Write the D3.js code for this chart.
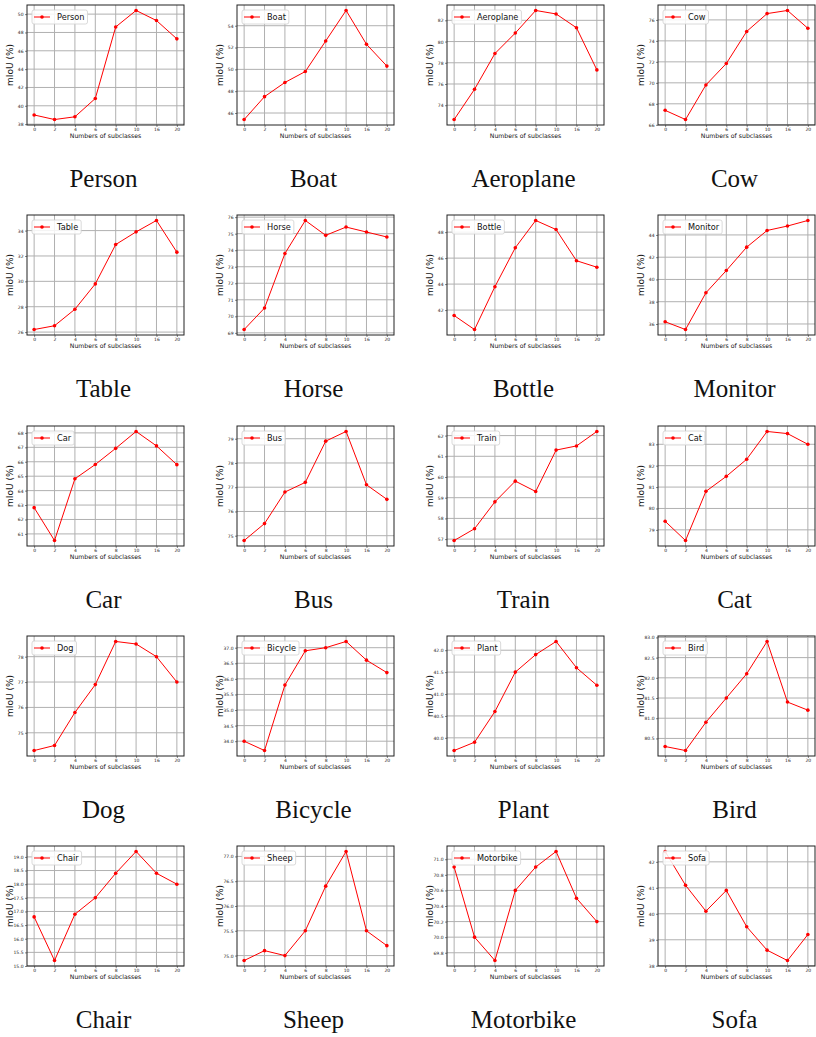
<!DOCTYPE html>
<html><head><meta charset="utf-8">
<script src="https://cdn.jsdelivr.net/npm/d3@7"></script>
<style>body{margin:0;background:#fff}svg{display:block}</style>
</head><body>
<script>
const xCategories = ["0","2","4","6","8","10","16","20"];
const classNames = ["Person","Boat","Aeroplane","Cow","Table","Horse","Bottle","Monitor","Car","Bus","Train","Cat","Dog","Bicycle","Plant","Bird","Chair","Sheep","Motorbike","Sofa"];
const person    = [39.0,38.5,38.8,40.8,48.6,50.4,49.3,47.3];
const boat      = [45.4,47.5,48.8,49.8,52.6,55.4,52.3,50.3];
const aeroplane = [72.65,75.5,78.87,80.8,82.93,82.6,81.3,77.33];
const cow       = [67.38,66.5,69.8,71.84,74.9,76.6,76.9,75.2];
const table     = [26.2,26.5,27.8,29.8,32.9,33.9,34.8,32.3];
const horse     = [69.2,70.5,73.8,75.8,74.9,75.4,75.1,74.8];
const bottle    = [41.58,40.5,43.8,46.8,48.9,48.2,45.8,45.3];
const monitor   = [36.2,35.5,38.8,40.8,42.9,44.4,44.8,45.3];
const car       = [62.82,60.54,64.82,65.81,66.93,68.1,67.1,65.8];
const bus       = [74.8,75.5,76.8,77.2,78.9,79.3,77.1,76.5];
const train     = [56.93,57.5,58.8,59.8,59.3,61.3,61.5,62.2];
const cat       = [79.4,78.5,80.8,81.5,82.3,83.6,83.5,83.0];
const dog       = [74.3,74.5,75.8,76.9,78.6,78.5,78.0,77.0];
const bicycle   = [34.0,33.7,35.8,36.9,37.0,37.2,36.6,36.2];
const plant     = [39.71,39.9,40.6,41.5,41.9,42.2,41.6,41.2];
const bird      = [80.3,80.2,80.9,81.5,82.1,82.9,81.4,81.2];
const chair     = [16.8,15.2,16.9,17.5,18.4,19.2,18.4,18.0];
const sheep     = [74.9,75.1,75.0,75.5,76.4,77.1,75.5,75.2];
const motorbike = [70.9,70.0,69.7,70.6,70.9,71.1,70.5,70.2];
const sofa      = [42.4,41.1,40.1,40.9,39.5,38.6,38.2,39.2];
const seriesValues = [person,boat,aeroplane,cow,table,horse,bottle,monitor,car,bus,train,cat,dog,bicycle,plant,bird,chair,sheep,motorbike,sofa];
const yTickLabels = [
  ["38","40","42","44","46","48","50"],
  ["46","48","50","52","54"],
  ["74","76","78","80","82"],
  ["66","68","70","72","74","76"],
  ["26","28","30","32","34"],
  ["69","70","71","72","73","74","75","76"],
  ["42","44","46","48"],
  ["36","38","40","42","44"],
  ["61","62","63","64","65","66","67","68"],
  ["75","76","77","78","79"],
  ["57","58","59","60","61","62"],
  ["79","80","81","82","83"],
  ["75","76","77","78"],
  ["34.0","34.5","35.0","35.5","36.0","36.5","37.0"],
  ["40.0","40.5","41.0","41.5","42.0"],
  ["80.5","81.0","81.5","82.0","82.5","83.0"],
  ["15.0","15.5","16.0","16.5","17.0","17.5","18.0","18.5","19.0"],
  ["75.0","75.5","76.0","76.5","77.0"],
  ["69.8","70.0","70.2","70.4","70.6","70.8","71.0"],
  ["38","39","40","41","42"]
];
const xLabel = "Numbers of subclasses";
const yLabel = "mIoU (%)";

const W = 816, H = 1037;
const colLeft = [27, 237, 447, 658];
const rowTop = [5, 215, 426, 636, 846];
const pw = 157, ph = 120;
const red = "#ff0000";

const svg = d3.select("body").append("svg").attr("width", W).attr("height", H);

classNames.forEach((name, i) => {
  const vals = seriesValues[i];
  const L = colLeft[i % 4], T = rowTop[Math.floor(i / 4)];
  const g = svg.append("g").attr("transform", `translate(${L},${T})`);
  const x = d3.scalePoint().domain(xCategories).range([0, pw]).padding(0.35);
  const lo = d3.min(vals), hi = d3.max(vals), m = (hi - lo) * 0.05;
  const y = d3.scaleLinear().domain([lo - m, hi + m]).range([ph, 0]);
  const yt = yTickLabels[i];

  // grid
  g.append("g").selectAll("line").data(xCategories).join("line")
    .attr("x1", d => x(d)).attr("x2", d => x(d)).attr("y1", 0).attr("y2", ph)
    .attr("stroke", "#b0b0b0").attr("stroke-width", 1);
  g.append("g").selectAll("line").data(yt).join("line")
    .attr("y1", d => y(+d)).attr("y2", d => y(+d)).attr("x1", 0).attr("x2", pw)
    .attr("stroke", "#b0b0b0").attr("stroke-width", 1);

  // axes
  const xa = g.append("g").attr("transform", `translate(0,${ph})`)
    .call(d3.axisBottom(x).tickSize(2).tickPadding(0.5));
  const ya = g.append("g")
    .call(d3.axisLeft(y).tickValues(yt.map(Number)).tickFormat((d, k) => yt[k]).tickSize(2).tickPadding(1.5));
  [xa, ya].forEach(a => {
    a.select(".domain").remove();
    a.selectAll("line").attr("stroke", "#333").attr("stroke-width", 0.6);
    a.selectAll("text").attr("font-family", "DejaVu Sans").attr("font-size", 4.5).attr("fill", "#222");
  });

  // frame
  g.append("rect").attr("x", 0).attr("y", 0).attr("width", pw).attr("height", ph)
    .attr("fill", "none").attr("stroke", "#222").attr("stroke-width", 1);

  // line + markers
  const line = d3.line().x((d, k) => x(xCategories[k])).y(d => y(d));
  g.append("path").datum(vals).attr("d", line).attr("fill", "none")
    .attr("stroke", red).attr("stroke-width", 1);
  g.append("g").selectAll("circle").data(vals).join("circle")
    .attr("cx", (d, k) => x(xCategories[k])).attr("cy", d => y(d)).attr("r", 1.8).attr("fill", red);

  // legend
  const lg = g.append("g").attr("transform", "translate(5,5)");
  const box = lg.append("rect").attr("rx", 2).attr("ry", 2).attr("height", 14)
    .attr("fill", "#fff").attr("fill-opacity", 0.85).attr("stroke", "#d0d0d0").attr("stroke-width", 0.8);
  lg.append("line").attr("x1", 2).attr("x2", 18).attr("y1", 7).attr("y2", 7).attr("stroke", red).attr("stroke-width", 1);
  lg.append("circle").attr("cx", 10).attr("cy", 7).attr("r", 1.8).attr("fill", red);
  const lt = lg.append("text").attr("x", 25).attr("y", 10).attr("font-family", "DejaVu Sans")
    .attr("font-size", 8.2).attr("fill", "#111").text(name);
  box.attr("width", 25 + lt.node().getComputedTextLength() + 3);

  // axis labels
  g.append("text").attr("x", pw / 2).attr("y", ph + 13.2).attr("text-anchor", "middle")
    .attr("font-family", "DejaVu Sans").attr("font-size", 6.2).attr("fill", "#111").text(xLabel);
  g.append("text").attr("transform", `translate(-14.5,${ph / 2}) rotate(-90)`).attr("text-anchor", "middle")
    .attr("font-family", "DejaVu Sans").attr("font-size", 9).attr("fill", "#111").text(yLabel);

  // title
  g.append("text").attr("x", pw / 2 - 2).attr("y", 182).attr("text-anchor", "middle")
    .attr("font-family", "Liberation Serif").attr("font-size", 25).attr("fill", "#111").text(name);
});
</script>
</body></html>
